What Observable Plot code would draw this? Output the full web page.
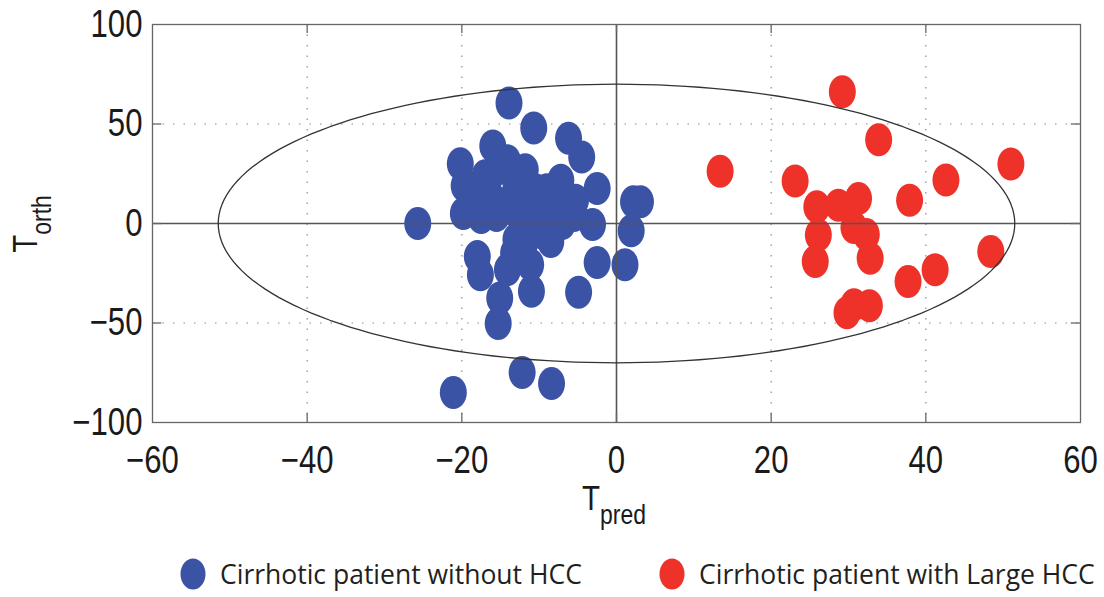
<!DOCTYPE html>
<html>
<head>
<meta charset="utf-8">
<script src="https://cdn.jsdelivr.net/npm/d3@7"></script>
<script src="https://cdn.jsdelivr.net/npm/@observablehq/plot@0.6"></script>
<style>
  html, body { margin: 0; padding: 0; background: #fff; }
  #wrap { width: 1104px; position: relative; }
  #legend { position: relative; width: 1104px; height: 47px; font-family: "Open Sans", sans-serif; font-size: 26.5px; color: #231f20; }
  #legend .item { position: absolute; top: 0; height: 47px; display: flex; align-items: center; white-space: nowrap; }
  #legend svg { margin-right: 14px; }
</style>
</head>
<body>
<div id="wrap">
  <div id="chart"></div>
  <div id="legend"></div>
</div>
<script>
// OPLS-DA score plot: predictive vs orthogonal component scores

// Cirrhotic patients without HCC
const noHccPred = [
  -13.9, -10.7, -6.2, -4.5, -2.5, 2.2, 3.1, 1.9, -3.1, -25.7,
  -20.2, -16.0, -18.0, -17.6, -15.1, -15.3, -11.0, -13.3, -11.1, -14.1,
  -8.5, -2.5, -4.9, 1.1, -12.2, -8.4, -21.1,
  -14.1, -11.8, -19.7, -19.8, -18.0, -16.5, -15.5, -17.0, -13.0, -11.0,
  -13.0, -10.0, -7.2, -9.0, -8.0, -5.3, -5.5, -7.0, -12.0, -9.5,
  -14.5, -10.3, -15.5, -17.5, -13.0, -12.0, -9.0
];
const noHccOrth = [
  60.6, 48.0, 42.9, 33.4, 17.6, 10.9, 10.9, -3.6, -0.5, 0.0,
  30.0, 39.0, -16.6, -25.7, -37.4, -50.2, -34.1, -14.9, -20.7, -23.2,
  -9.1, -19.6, -34.6, -20.7, -74.9, -80.4, -84.9,
  31.5, 27.0, 19.0, 5.0, 10.0, 15.5, 4.0, 24.0, 20.0, 12.0,
  6.0, 3.0, 21.7, 17.0, 10.0, 11.7, 4.0, 0.0, -3.0, -5.0,
  10.0, 16.7, 27.0, 3.0, -8.0, -12.0, -1.0
];

// Cirrhotic patients with large HCC
const largeHccPred = [
  13.4, 29.2, 33.9, 23.1, 51.0, 42.6, 37.9, 25.9, 28.7, 31.3,
  26.1, 30.7, 32.3, 32.8, 25.7, 48.4, 41.2, 37.7, 30.7, 32.7, 29.8
];
const largeHccOrth = [
  26.2, 66.2, 42.1, 21.4, 29.9, 21.8, 11.7, 8.4, 9.2, 12.6,
  -5.8, -2.0, -5.5, -17.4, -19.1, -14.1, -23.2, -29.1, -40.8, -41.3, -44.9
];

const groupNames = ["Cirrhotic patient without HCC", "Cirrhotic patient with Large HCC"];
const groupColors = ["#3a53a4", "#ee3129"];

const xTicks = [-60, -40, -20, 0, 20, 40, 60];
const yTicks = [-100, -50, 0, 50, 100];

// Hotelling T2 confidence ellipse semi-axes
const ellipseA = 51.5;
const ellipseB = 70;

const scores = [
  ...noHccPred.map((p, i) => ({pred: p, orth: noHccOrth[i], group: groupNames[0]})),
  ...largeHccPred.map((p, i) => ({pred: p, orth: largeHccOrth[i], group: groupNames[1]}))
];

const ellipsePath = d3.range(0, 361, 2).map(a => {
  const t = a * Math.PI / 180;
  return {pred: ellipseA * Math.cos(t), orth: ellipseB * Math.sin(t)};
});

// Marker: a slightly tall ellipse
const ASPECT = 27 / 33;
const ovalSymbol = {
  draw(context, size) {
    const ry = Math.sqrt(size / Math.PI);
    const rx = ry * ASPECT;
    const k = 0.5523;
    context.moveTo(rx, 0);
    context.bezierCurveTo(rx, k * ry, k * rx, ry, 0, ry);
    context.bezierCurveTo(-k * rx, ry, -rx, k * ry, -rx, 0);
    context.bezierCurveTo(-rx, -k * ry, -k * rx, -ry, 0, -ry);
    context.bezierCurveTo(k * rx, -ry, rx, -k * ry, rx, 0);
    context.closePath();
  }
};

const fmt = d => d < 0 ? "\u2212" + (-d) : String(d);
const tickFont = '"Liberation Sans", Arial, Helvetica, sans-serif';
const NARROW = 0.82; // horizontal squeeze for a condensed Helvetica look

const inner = xTicks.filter(d => d !== -60 && d !== 60);
const innerY = yTicks.filter(d => d !== -100 && d !== 100);

const chart = Plot.plot({
  width: 1104,
  height: 550,
  marginLeft: 152,
  marginRight: 24,
  marginTop: 24,
  marginBottom: 128,
  style: {fontFamily: tickFont, fontSize: "38px", color: "#1a1a1a", background: "#fff"},
  x: {domain: [-60, 60], label: null},
  y: {domain: [-100, 100], label: null},
  color: {domain: groupNames, range: groupColors},
  marks: [
    // dotted grid
    Plot.ruleX(inner.filter(d => d !== 0), {stroke: "#8a8a8a", strokeWidth: 1.2, strokeDasharray: "1.5,9"}),
    Plot.ruleY(innerY.filter(d => d !== 0), {stroke: "#8a8a8a", strokeWidth: 1.2, strokeDasharray: "1.5,9"}),
    // score points
    Plot.dot(scores, {x: "pred", y: "orth", fill: "group", r: 16.5, symbol: ovalSymbol, stroke: "none"}),
    // zero lines
    Plot.ruleX([0], {stroke: "#555", strokeWidth: 1.6}),
    Plot.ruleY([0], {stroke: "#555", strokeWidth: 1.6}),
    // confidence ellipse
    Plot.line(ellipsePath, {x: "pred", y: "orth", stroke: "#333", strokeWidth: 1.3}),
    // inward tick marks on all four sides
    Plot.ruleX(inner, {x: d => d, y1: -100, y2: -95.5, stroke: "#666", strokeWidth: 1.3}),
    Plot.ruleX(inner, {x: d => d, y1: 100, y2: 95.5, stroke: "#666", strokeWidth: 1.3}),
    Plot.ruleY(innerY, {y: d => d, x1: -60, x2: -58.8, stroke: "#666", strokeWidth: 1.3}),
    Plot.ruleY(innerY, {y: d => d, x1: 60, x2: 58.8, stroke: "#666", strokeWidth: 1.3}),
    Plot.frame({stroke: "#666", strokeWidth: 1.3}),
    Plot.axisX(xTicks, {anchor: "bottom", tickSize: 0, tickPadding: 24, tickFormat: fmt, fontSize: 38}),
    Plot.axisY(yTicks, {anchor: "left", tickSize: 0, tickPadding: 10, tickFormat: fmt, fontSize: 38})
  ]
});

const svg = d3.select(chart);

// axis titles with subscripts
const xt = svg.append("text")
  .attr("transform", `translate(614,510) scale(${NARROW},1)`)
  .attr("text-anchor", "middle")
  .attr("font-family", tickFont).attr("font-size", 36).attr("fill", "#1a1a1a");
xt.append("tspan").text("T");
xt.append("tspan").attr("dy", 14).attr("font-size", 28).text("pred");

const yt = svg.append("text")
  .attr("transform", `translate(37,224) rotate(-90) scale(${NARROW},1)`)
  .attr("text-anchor", "middle")
  .attr("font-family", tickFont).attr("font-size", 36).attr("fill", "#1a1a1a");
yt.append("tspan").text("T");
yt.append("tspan").attr("dy", 14).attr("font-size", 28).text("orth");

document.getElementById("chart").appendChild(chart);

// squeeze tick labels horizontally about their own anchor, keeping Plot's placement
function squeeze(el, anchor) {
  const b = el.getBBox();
  const ax = anchor === "end" ? b.x + b.width : b.x + b.width / 2;
  const ay = b.y + b.height / 2;
  const existing = el.getAttribute("transform") || "";
  el.setAttribute("transform",
    `${existing} translate(${ax},${ay}) scale(${NARROW},1) translate(${-ax},${-ay})`);
}
svg.selectAll('g[aria-label="x-axis tick label"] text').each(function () { squeeze(this, "middle"); });
svg.selectAll('g[aria-label="y-axis tick label"] text').each(function () { squeeze(this, "end"); });

// legend below the plot
const legend = d3.select("#legend");
const lefts = [180, 659];
groupNames.forEach((name, i) => {
  const item = legend.append("div").attr("class", "item").style("left", lefts[i] + "px");
  const s = item.append("svg").attr("width", 26).attr("height", 32);
  s.append("ellipse").attr("cx", 13).attr("cy", 16).attr("rx", 12.5).attr("ry", 15.5).attr("fill", groupColors[i]);
  item.append("span").text(name);
});
</script>
</body>
</html>
